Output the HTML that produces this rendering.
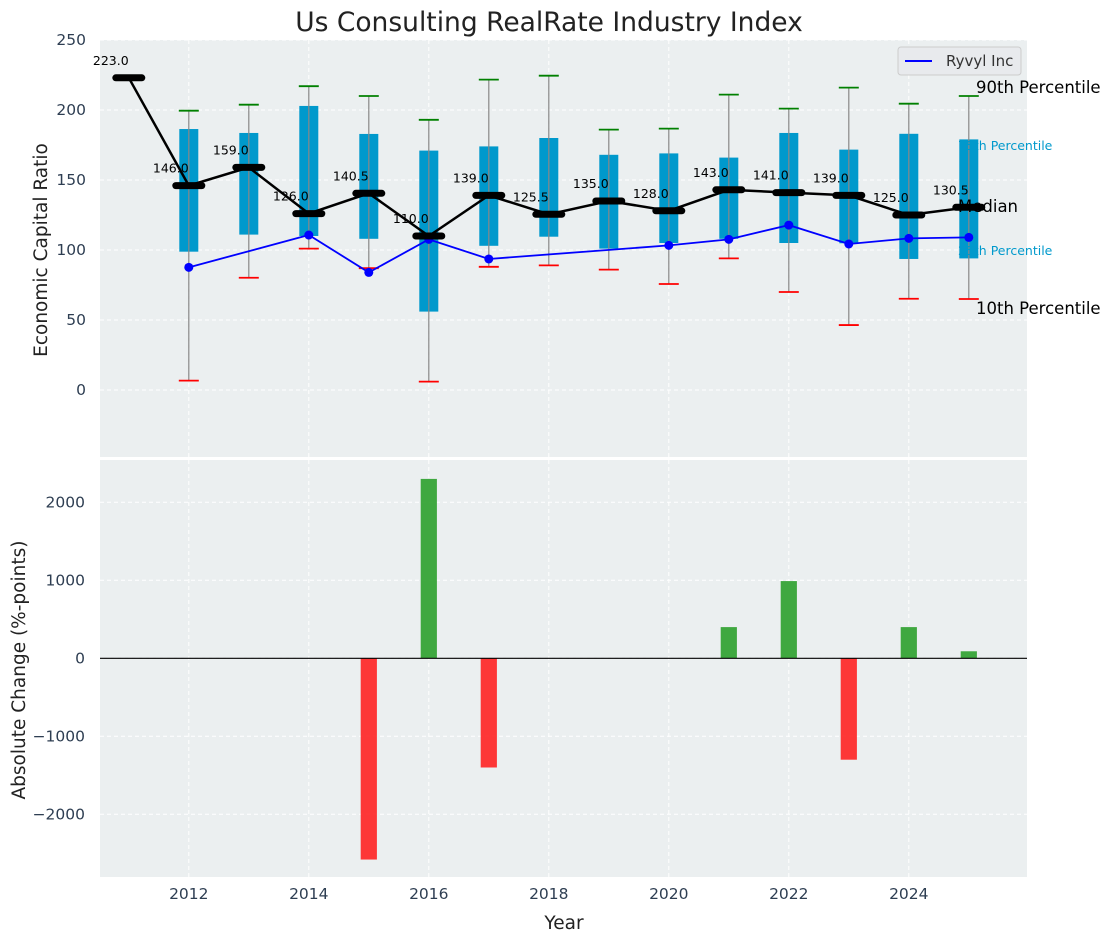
<!DOCTYPE html>
<html><head><meta charset="utf-8"><style>
body{margin:0;background:#fff;}
svg text{font-family:"DejaVu Sans","Liberation Sans",sans-serif;}
</style></head><body>
<svg id="chart" width="1111" height="942" xmlns="http://www.w3.org/2000/svg"></svg>
<script>
const years=[2011,2012,2013,2014,2015,2016,2017,2018,2019,2020,2021,2022,2023,2024,2025];
const medians=[223,146,159,126,140.5,110,139,125.5,135,128,143,141,139,125,130.5];
const p90=[null,199.5,203.8,217,210,193,221.7,224.5,186,186.7,211,201,216,204.5,210];
const p75=[null,186.4,183.6,202.9,182.9,171,174,180,168,169,166,183.6,171.7,183,179];
const p25=[null,98.8,111,110,108,56,103,109.5,101,105,108,105,104.8,93.6,94];
const p10=[null,6.7,80.2,101,87,6,88,89,86,75.7,94,70,46.4,65.2,65];
const ryvyl=[null,87.6,null,110.7,84,107.6,93.6,null,null,103.3,107.6,117.8,104.3,108.3,109];
const changes=[null,null,null,null,-2580,2300,-1400,null,null,null,400,990,-1300,400,90];
const topTicks=[0,50,100,150,200,250];
const botTicks=[-2000,-1000,0,1000,2000];
const xTicks=[2012,2014,2016,2018,2020,2022,2024];

const NS="http://www.w3.org/2000/svg";
const svg=document.getElementById('chart');
function el(tag,attrs,parent){const e=document.createElementNS(NS,tag);for(const k in attrs)e.setAttribute(k,attrs[k]);(parent||svg).appendChild(e);return e;}
const L=100,R=1027,T1=40,B1=457,T2=460,B2=877;
const x=v=>L+(v-2010.52)*(R-L)/(2025.97-2010.52);
const y1=v=>390-(v)*1.4;
const y2=v=>658.3-v*0.078;

let e;
e=el('rect',{x:L,y:T1,width:R-L,height:B1-T1,fill:'#ebeff0'});


e=el('rect',{x:L,y:T2,width:R-L,height:B2-T2,fill:'#ebeff0'});



xTicks.forEach(t=>{
 [[T1,B1],[T2,B2]].forEach(([a,b])=>{e=el('line',{x1:x(t),x2:x(t),y1:a,y2:b,stroke:'#fff','stroke-dasharray':'4,3','stroke-width':1});
 
 });
 e=el('text',{x:x(t),y:899,'text-anchor':'middle','font-size':15.5,fill:'#2e3e52'});e.textContent=t;
 
 
});
topTicks.forEach(t=>{
 e=el('line',{x1:L,x2:R,y1:y1(t),y2:y1(t),stroke:'#fff','stroke-dasharray':'4,3'});
 
 
 e=el('text',{x:86,y:y1(t)+5,'text-anchor':'end','font-size':15.5,fill:'#2e3e52'});e.textContent=t;
 
 
});
botTicks.forEach(t=>{
 e=el('line',{x1:L,x2:R,y1:y2(t),y2:y2(t),stroke:'#fff','stroke-dasharray':'4,3'});
 
 
 e=el('text',{x:85,y:y2(t)+5,'text-anchor':'end','font-size':15.5,fill:'#2e3e52'});e.textContent=(t<0?'\u2212'+(-t):t);
 
 
});

years.forEach((yr,i)=>{
 if(p90[i]==null)return;
 const cx=x(yr);
 e=el('rect',{x:cx-9.5,y:y1(p75[i]),width:19,height:y1(p25[i])-y1(p75[i]),fill:'#0099cc'});
 
 
 e=el('line',{x1:cx,x2:cx,y1:y1(p90[i]),y2:y1(p10[i]),stroke:'#888','stroke-width':1.2});
 
 
 e=el('line',{x1:cx-10,x2:cx+10,y1:y1(p90[i]),y2:y1(p90[i]),stroke:'#008000','stroke-width':1.8});
 
 
 e=el('line',{x1:cx-10,x2:cx+10,y1:y1(p10[i]),y2:y1(p10[i]),stroke:'#ff0000','stroke-width':1.8});
 
 
});

const rp=years.map((yr,i)=>ryvyl[i]==null?null:[x(yr),y1(ryvyl[i])]).filter(p=>p);
e=el('polyline',{points:rp.map(p=>p.join(',')).join(' '),fill:'none',stroke:'#0000ff','stroke-width':1.8});


rp.forEach(p=>{e=el('circle',{cx:p[0],cy:p[1],r:4.5,fill:'#0000ff'});
 
 });

e=el('polyline',{points:years.map((yr,i)=>x(yr)+','+y1(medians[i])).join(' '),fill:'none',stroke:'#000','stroke-width':2.5});


years.forEach((yr,i)=>{
 const cx=x(yr),cy=y1(medians[i]);
 e=el('line',{x1:cx-13,x2:cx+13,y1:cy,y2:cy,stroke:'#000','stroke-width':7,'stroke-linecap':'round'});
 
 
 e=el('text',{x:cx-18,y:cy-13,'text-anchor':'middle','font-size':12.5,fill:'#000'});e.textContent=medians[i].toFixed(1);
 
 
});

[['90th Percentile',976,93,16.5,'#000'],['75th Percentile',958,150,12.5,'#0099cc'],['Median',958,212,16.5,'#000'],['25th Percentile',958,255,12.5,'#0099cc'],['10th Percentile',976,314,16.5,'#000']].forEach(a=>{
 e=el('text',{x:a[1],y:a[2],'font-size':a[3],fill:a[4]});e.textContent=a[0];
 
 
});

const bw=0.27*(R-L)/(2025.97-2010.52);
years.forEach((yr,i)=>{
 const v=changes[i];if(v==null)return;
 const top=Math.min(y2(0),y2(v)),h=Math.abs(y2(v)-y2(0));
 e=el('rect',{x:x(yr)-bw/2,y:top,width:bw,height:h,fill:v>=0?'#2ca02c':'#ff2222','fill-opacity':0.9});
 
 
});
e=el('line',{x1:L,x2:R,y1:y2(0),y2:y2(0),stroke:'#000','stroke-width':1.2});



const lg=el('g',{});


el('rect',{x:898,y:47,width:123,height:28,rx:3,fill:'#e8eaed',stroke:'#ccc'},lg);
el('line',{x1:905,x2:932,y1:61,y2:61,stroke:'#0000ff','stroke-width':2},lg);
e=el('text',{x:946,y:66,'font-size':15,fill:'#333'},lg);e.textContent='Ryvyl Inc';

e=el('text',{x:549,y:31,'text-anchor':'middle','font-size':26.5,fill:'#222'});e.textContent='Us Consulting RealRate Industry Index';


e=el('text',{x:47,y:250,'text-anchor':'middle','font-size':18.5,fill:'#222',transform:'rotate(-90 47 250)'});e.textContent='Economic Capital Ratio';


e=el('text',{x:25,y:670,'text-anchor':'middle','font-size':18.5,fill:'#222',transform:'rotate(-90 25 670)'});e.textContent='Absolute Change (%-points)';


e=el('text',{x:564,y:929,'text-anchor':'middle','font-size':18.5,fill:'#222'});e.textContent='Year';


</script>
</body></html>
